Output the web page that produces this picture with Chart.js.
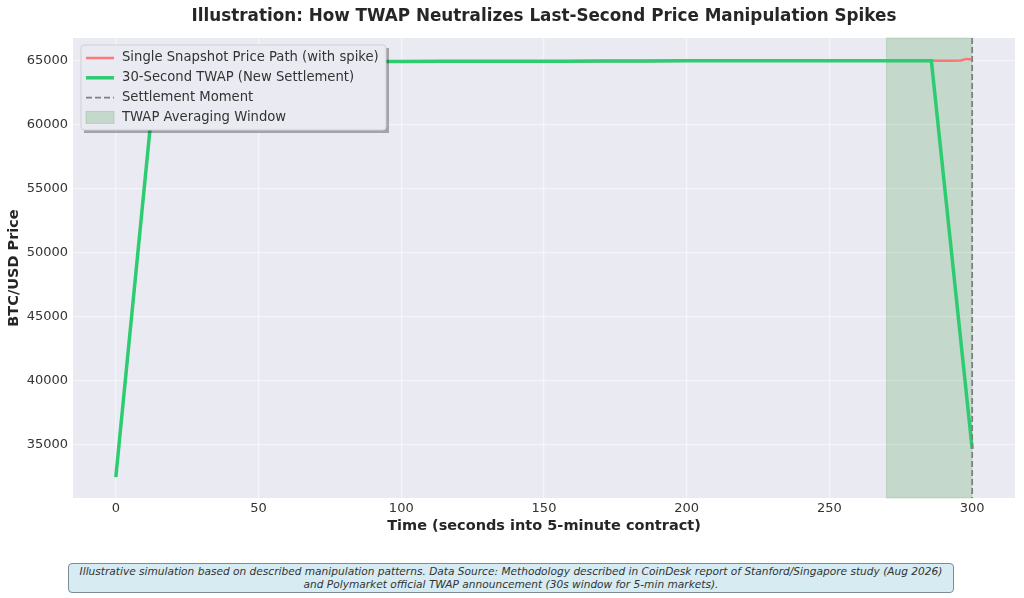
<!DOCTYPE html>
<html>
<head>
<meta charset="utf-8">
<script src="https://cdn.jsdelivr.net/npm/chart.js@4.4.1/dist/chart.umd.min.js"></script>
<style>
  body { margin: 0; background: #fff; font-family: 'DejaVu Sans', sans-serif; }
  #wrap { position: relative; width: 1024px; height: 545px; }
  #note {
    position: absolute; left: 68px; top: 563px; width: 884px; height: 27px;
    background: #d6ebf2; border: 1px solid #7d8b96; border-radius: 4px;
    font: italic 10.6px 'DejaVu Sans', sans-serif; color: #333; white-space: nowrap;
    text-align: center; line-height: 13px; padding-top: 1px; box-sizing: content-box;
  }
</style>
</head>
<body>
<div id="wrap"><canvas id="chart"></canvas></div>
<div id="note">Illustrative simulation based on described manipulation patterns. Data Source: Methodology described in CoinDesk report of Stanford/Singapore study (Aug 2026)<br>and Polymarket official TWAP announcement (30s window for 5-min markets).</div>
<script>
// chart data
const titleText = 'Illustration: How TWAP Neutralizes Last-Second Price Manipulation Spikes';
const seriesLabels = ['Single Snapshot Price Path (with spike)', '30-Second TWAP (New Settlement)', 'Settlement Moment', 'TWAP Averaging Window'];

const twapTimes = [0, 14.3, 28.6, 42.9, 57.1, 71.4, 85.7, 100, 114.3, 128.6, 142.9, 157.1, 171.4, 185.7, 200, 214.3, 228.6, 242.9, 257.1, 271.4, 285.7, 300];
const twapPrices = [32500, 64900, 64900, 64900, 64900, 64900, 64900, 64900, 64910, 64910, 64920, 64920, 64930, 64940, 64950, 64960, 64960, 64960, 64950, 64950, 64950, 34700];

const snapTimes = [0, 14.3, 28.6, 42.9, 57.1, 71.4, 85.7, 100, 114.3, 128.6, 142.9, 157.1, 171.4, 185.7, 200, 214.3, 228.6, 242.9, 257.1, 271.4, 285.7, 290, 293, 296, 298, 300];
const snapPrices = [65000, 64900, 64900, 64900, 64900, 64900, 64900, 64900, 64910, 64910, 64920, 64920, 64930, 64940, 64950, 64960, 64960, 64960, 64950, 64950, 64950, 64950, 64950, 64980, 65100, 65050];

const windowStart = 270;
const settlementTime = 300;

const xTicks = [0, 50, 100, 150, 200, 250, 300];
const yTicks = [35000, 40000, 45000, 50000, 55000, 60000, 65000];

const bgColor = '#EAEAF2';
const gridColor = 'rgba(255,255,255,0.5)';
const redColor = 'rgba(255,107,107,0.9)';
const greenColor = '#2ecc71';
const spanColor = 'rgba(34,139,34,0.18)';
const dashColor = '#808080';

const toPoints = (xs, ys) => xs.map((x, i) => ({ x: x, y: ys[i] }));

// background, window span, settlement line, title, legend
const decor = {
  id: 'decor',
  beforeDraw(chart) {
    const { ctx, chartArea: a } = chart;
    ctx.save();
    ctx.fillStyle = bgColor;
    ctx.fillRect(a.left, a.top, a.right - a.left, a.bottom - a.top);
    ctx.restore();
  },
  beforeDatasetsDraw(chart) {
    const { ctx, chartArea: a, scales } = chart;
    const x0 = scales.x.getPixelForValue(windowStart);
    const x1 = scales.x.getPixelForValue(settlementTime);
    ctx.save();
    ctx.fillStyle = spanColor;
    ctx.fillRect(x0, a.top, x1 - x0, a.bottom - a.top);
    ctx.strokeStyle = spanColor;
    ctx.strokeRect(x0, a.top, x1 - x0, a.bottom - a.top);
    ctx.restore();
  },
  afterDatasetsDraw(chart) {
    const { ctx, chartArea: a, scales } = chart;
    const x = scales.x.getPixelForValue(settlementTime);
    ctx.save();
    ctx.strokeStyle = dashColor;
    ctx.lineWidth = 1.8;
    ctx.setLineDash([6, 3]);
    ctx.beginPath();
    ctx.moveTo(x, a.top);
    ctx.lineTo(x, a.bottom);
    ctx.stroke();
    ctx.restore();
  },
  afterDraw(chart) {
    const { ctx, chartArea: a } = chart;
    ctx.save();
    ctx.fillStyle = '#262626';
    ctx.font = 'bold 16.8px "DejaVu Sans"';
    ctx.textAlign = 'center';
    ctx.textBaseline = 'middle';
    ctx.fillText(titleText, (a.left + a.right) / 2, 16.5);

    // legend box
    const bx = a.left + 8, by = a.top + 7, bw = 305, bh = 85;
    ctx.fillStyle = 'rgba(0,0,0,0.3)';
    ctx.fillRect(bx + 3, by + 3, bw, bh);
    ctx.fillStyle = bgColor;
    ctx.strokeStyle = '#cfcfd6';
    ctx.lineWidth = 1;
    ctx.beginPath();
    ctx.roundRect(bx, by, bw, bh, 3);
    ctx.fill();
    ctx.stroke();

    ctx.font = '13.2px "DejaVu Sans"';
    ctx.textAlign = 'left';
    seriesLabels.forEach((label, i) => {
      const y = by + 13 + i * 19.8;
      const sx = bx + 5;
      ctx.save();
      if (i === 3) {
        ctx.fillStyle = spanColor;
        ctx.fillRect(sx, y - 6, 28, 12);
        ctx.strokeStyle = spanColor;
        ctx.strokeRect(sx, y - 6, 28, 12);
      } else {
        ctx.beginPath();
        ctx.moveTo(sx, y);
        ctx.lineTo(sx + 28, y);
        if (i === 0) { ctx.strokeStyle = redColor; ctx.lineWidth = 2.5; }
        if (i === 1) { ctx.strokeStyle = greenColor; ctx.lineWidth = 3.5; }
        if (i === 2) { ctx.strokeStyle = dashColor; ctx.lineWidth = 1.8; ctx.setLineDash([6, 3]); }
        ctx.stroke();
      }
      ctx.restore();
      ctx.fillStyle = '#333';
      ctx.fillText(label, sx + 36, y);
    });
    ctx.restore();
  }
};

new Chart(document.getElementById('chart'), {
  type: 'line',
  data: {
    datasets: [
      {
        label: seriesLabels[0],
        data: toPoints(snapTimes, snapPrices),
        borderColor: redColor,
        borderWidth: 2.5,
        pointRadius: 0,
        tension: 0,
        order: 2
      },
      {
        label: seriesLabels[1],
        data: toPoints(twapTimes, twapPrices),
        borderColor: greenColor,
        borderWidth: 3.5,
        pointRadius: 0,
        tension: 0,
        order: 1
      }
    ]
  },
  options: {
    responsive: true,
    maintainAspectRatio: false,
    animation: false,
    layout: { padding: { top: 38, right: 9, left: 0, bottom: 0 } },
    plugins: {
      legend: { display: false },
      title: { display: false },
      tooltip: { enabled: false }
    },
    scales: {
      x: {
        type: 'linear',
        min: -15,
        max: 315,
        afterFit(scale) { scale.height = 47; },
        afterBuildTicks(scale) { scale.ticks = xTicks.map(v => ({ value: v })); },
        grid: { color: gridColor, lineWidth: 1.3, drawTicks: false },
        border: { display: false },
        ticks: { color: '#333', padding: 3, font: { family: 'DejaVu Sans', size: 13 }, callback: v => String(v) },
        title: {
          display: true,
          text: 'Time (seconds into 5-minute contract)',
          color: '#262626',
          font: { family: 'DejaVu Sans', size: 14.5, weight: 'bold' },
          padding: { top: 0, bottom: 10 }
        }
      },
      y: {
        min: 30870,
        max: 66730,
        afterFit(scale) { scale.width = 73; },
        afterBuildTicks(scale) { scale.ticks = yTicks.map(v => ({ value: v })); },
        grid: { color: gridColor, lineWidth: 1.3, drawTicks: false },
        border: { display: false },
        ticks: { color: '#333', padding: 5, font: { family: 'DejaVu Sans', size: 13 }, callback: v => String(v) },
        title: {
          display: true,
          text: 'BTC/USD Price',
          color: '#262626',
          font: { family: 'DejaVu Sans', size: 14.5, weight: 'bold' },
          padding: { top: 6, bottom: 0 }
        }
      }
    }
  },
  plugins: [decor]
});
</script>
</body>
</html>
